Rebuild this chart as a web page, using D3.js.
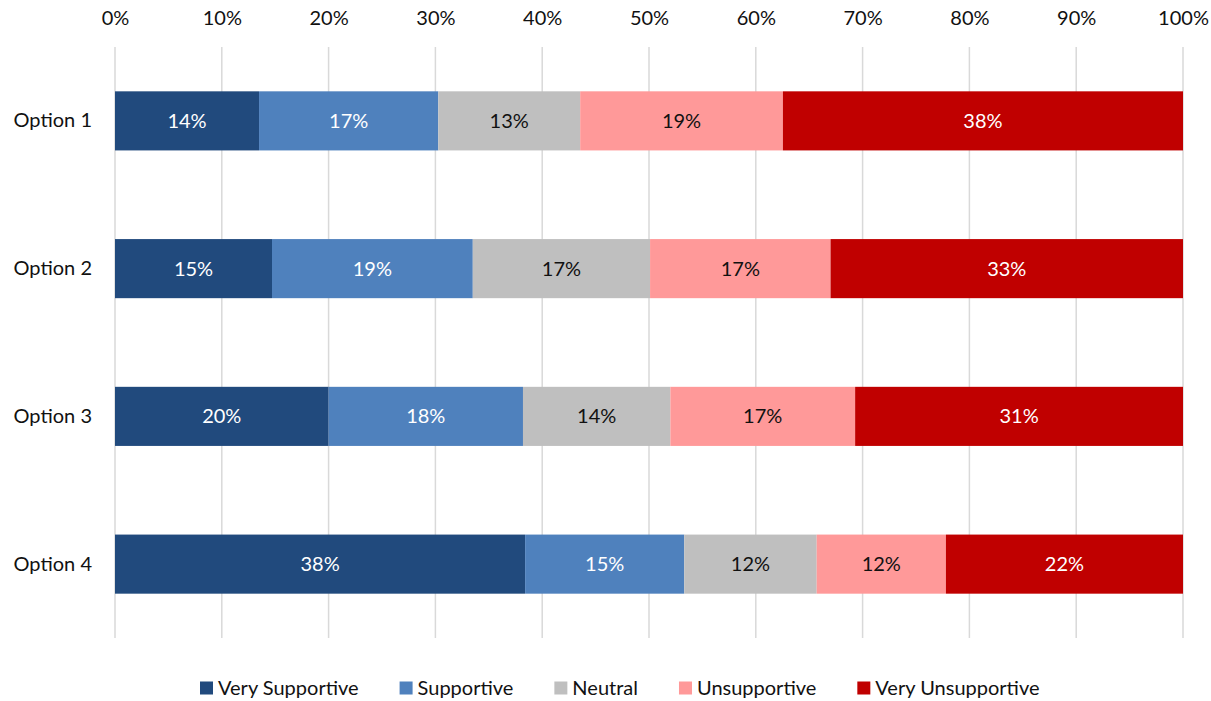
<!DOCTYPE html>
<html>
<head>
<meta charset="utf-8">
<script src="https://cdn.jsdelivr.net/npm/d3@7"></script>
<style>
  body { margin: 0; background: #fff; }
  svg text { font-family: Lato, "Open Sans", sans-serif; }
</style>
</head>
<body>
<div id="chart"></div>
<script>
// categories and series (percent of respondents)
const options = ["Option 1", "Option 2", "Option 3", "Option 4"];
const seriesNames = ["Very Supportive", "Supportive", "Neutral", "Unsupportive", "Very Unsupportive"];
const seriesColors = ["#214A7D", "#4F81BD", "#BFBFBF", "#FF9999", "#C00000"];
const labelColors = ["#fff", "#fff", "#111", "#111", "#fff"];

const verySupportive   = [13.5, 14.7, 20.0, 38.4];
const supportive       = [16.8, 18.8, 18.2, 14.9];
const neutral          = [13.3, 16.6, 13.8, 12.4];
const unsupportive     = [19.0, 16.9, 17.3, 12.1];
const veryUnsupportive = [37.5, 33.0, 30.7, 22.2];

const xTicks = [0, 10, 20, 30, 40, 50, 60, 70, 80, 90, 100];

const width = 1211;
const height = 701;
const margin = { top: 47, right: 28, bottom: 63, left: 115 };
const fontSize = 20;

const svg = d3.select("#chart")
  .append("svg")
  .attr("width", width)
  .attr("height", height);

// build rows from the arrays, normalised to 100%
const seriesValues = [verySupportive, supportive, neutral, unsupportive, veryUnsupportive];
const rows = options.map((name, i) => {
  const row = { name };
  seriesNames.forEach((s, j) => row[s] = seriesValues[j][i]);
  return row;
});

const stacked = d3.stack()
  .keys(seriesNames)
  .offset(d3.stackOffsetExpand)(rows);

const x = d3.scaleLinear()
  .domain([0, 1])
  .range([margin.left, width - margin.right]);

const y = d3.scaleBand()
  .domain(options)
  .range([margin.top, height - margin.bottom])
  .paddingInner(0.6)
  .paddingOuter(0.3);

// gridlines
svg.append("g")
  .selectAll("line")
  .data(xTicks)
  .enter()
  .append("line")
  .attr("x1", d => x(d / 100))
  .attr("x2", d => x(d / 100))
  .attr("y1", margin.top)
  .attr("y2", height - margin.bottom)
  .attr("stroke", "#d9d9d9")
  .attr("stroke-width", 1.5);

// top axis labels
const xAxis = d3.axisTop(x)
  .tickValues(xTicks.map(d => d / 100))
  .tickFormat(d => Math.round(d * 100) + "%")
  .tickSize(0)
  .tickPadding(0);

svg.append("g")
  .attr("transform", "translate(0,18)")
  .call(xAxis)
  .call(g => g.select(".domain").remove())
  .selectAll("text")
  .attr("dy", "0.35em")
  .attr("font-size", fontSize)
  .attr("fill", "#111");

// category labels
const yAxis = d3.axisLeft(y).tickSize(0).tickPadding(23);
svg.append("g")
  .attr("transform", `translate(${margin.left},0)`)
  .call(yAxis)
  .call(g => g.select(".domain").remove())
  .selectAll("text")
  .attr("font-size", fontSize)
  .attr("fill", "#111");

// bars
const layer = svg.selectAll("g.layer")
  .data(stacked)
  .enter()
  .append("g")
  .attr("class", "layer")
  .attr("fill", (d, i) => seriesColors[i]);

layer.selectAll("rect")
  .data(d => d.map(p => Object.assign(p, { key: d.key })))
  .enter()
  .append("rect")
  .attr("x", d => x(d[0]))
  .attr("y", d => y(d.data.name))
  .attr("width", d => x(d[1]) - x(d[0]))
  .attr("height", y.bandwidth());

// value labels
layer.selectAll("text")
  .data(d => d)
  .enter()
  .append("text")
  .attr("x", d => (x(d[0]) + x(d[1])) / 2)
  .attr("y", d => y(d.data.name) + y.bandwidth() / 2)
  .attr("dy", "0.35em")
  .attr("text-anchor", "middle")
  .attr("font-size", fontSize)
  .attr("fill", d => labelColors[seriesNames.indexOf(d.key)])
  .text(d => Math.round(d.data[d.key]) + "%");

// legend, laid out left to right by measured text width
const legend = svg.append("g").attr("transform", "translate(0,688)");
let cursor = 200;
seriesNames.forEach((name, i) => {
  const g = legend.append("g").attr("transform", `translate(${cursor},0)`);
  g.append("rect")
    .attr("x", 0)
    .attr("y", -6.5)
    .attr("width", 13)
    .attr("height", 13)
    .attr("fill", seriesColors[i]);
  const t = g.append("text")
    .attr("x", 18)
    .attr("dy", "0.35em")
    .attr("font-size", fontSize)
    .attr("fill", "#111")
    .text(name);
  cursor += 18 + t.node().getComputedTextLength() + 41;
});
</script>
</body>
</html>
